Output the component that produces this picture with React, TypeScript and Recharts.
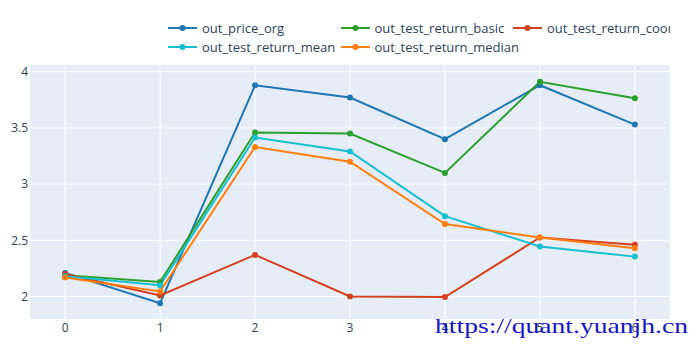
import React from 'react';
import { LineChart, Line, XAxis, YAxis, CartesianGrid, Legend } from 'recharts';

const xs = [0, 1, 2, 3, 4, 5, 6];
const outPriceOrg = [2.21, 1.94, 3.88, 3.77, 3.4, 3.88, 3.53];
const outTestReturnBasic = [2.19, 2.13, 3.46, 3.45, 3.1, 3.91, 3.765];
const outTestReturnCoor = [2.2, 2.01, 2.37, 2.0, 1.995, 2.525, 2.46];
const outTestReturnMean = [2.18, 2.1, 3.415, 3.29, 2.715, 2.445, 2.355];
const outTestReturnMedian = [2.17, 2.045, 3.33, 3.2, 2.645, 2.525, 2.43];

const xTicks = [0, 1, 2, 3, 4, 5, 6];
const yTicks = [2, 2.5, 3, 3.5, 4];

const series = [
  { key: 'out_price_org', name: 'out_price_org', color: '#1f77b4', values: outPriceOrg },
  { key: 'out_test_return_basic', name: 'out_test_return_basic', color: '#2ca02c', values: outTestReturnBasic },
  { key: 'out_test_return_coor', name: 'out_test_return_coor', color: '#d4411e', values: outTestReturnCoor },
  { key: 'out_test_return_mean', name: 'out_test_return_mean', color: '#17becf', values: outTestReturnMean },
  { key: 'out_test_return_median', name: 'out_test_return_median', color: '#ff7f0e', values: outTestReturnMedian },
];

const data = xs.map((x, i) => {
  const row: Record<string, number> = { x };
  series.forEach(s => { row[s.key] = s.values[i]; });
  return row;
});

const FONT = '"Open Sans", "Noto Sans", sans-serif';
const TEXT = '#2a3f5f';

// plotly-style horizontal legend, 3 columns, clipped at the plot's right edge
const PlotlyLegend = () => (
  <div style={{ position: 'relative', width: 670, height: 56, overflow: 'hidden', fontFamily: FONT, fontSize: 13, color: TEXT }}>
    {series.map((s, i) => {
      const col = i % 3;
      const row = Math.floor(i / 3);
      const left = 168 + col * 172.5;
      const cy = 28 + row * 18.5;
      return (
        <div key={s.key} style={{ position: 'absolute', left, top: cy - 9, height: 18, display: 'flex', alignItems: 'center', whiteSpace: 'nowrap' }}>
          <svg width={30} height={18} style={{ display: 'block' }}>
            <line x1={0} y1={9} x2={29} y2={9} stroke={s.color} strokeWidth={2} />
            <circle cx={14.5} cy={9} r={3} fill={s.color} />
          </svg>
          <span style={{ marginLeft: 4, lineHeight: '18px' }}>{s.name}</span>
        </div>
      );
    })}
  </div>
);

export default function App() {
  return (
    <div style={{ position: 'absolute', left: 0, top: 0, width: 700, height: 350, background: '#fff' }}>
      <LineChart width={700} height={350} data={data} margin={{ top: 65, right: 30, bottom: 0, left: 0 }}>
        <CartesianGrid fill="#e5ecf6" stroke="#ffffff" strokeWidth={1} horizontalValues={yTicks} verticalValues={xTicks} />
        <XAxis
          dataKey="x"
          type="number"
          domain={[-0.37, 6.37]}
          ticks={xTicks}
          axisLine={false}
          tickLine={false}
          tickSize={0}
          tickMargin={4}
          height={31}
          tick={{ fill: TEXT, fontSize: 12, fontFamily: FONT }}
        />
        <YAxis
          type="number"
          domain={[1.8, 4.06]}
          ticks={yTicks}
          axisLine={false}
          tickLine={false}
          tickSize={0}
          tickMargin={2}
          width={30}
          tick={{ fill: TEXT, fontSize: 12, fontFamily: FONT }}
        />
        <Legend layout="vertical" align="center" verticalAlign="middle" wrapperStyle={{ left: 0, top: 0, width: 670, height: 56 }} content={() => <PlotlyLegend />} />
        {series.map(s => (
          <Line
            key={s.key}
            dataKey={s.key}
            name={s.name}
            type="linear"
            stroke={s.color}
            strokeWidth={2}
            dot={{ r: 3, fill: s.color, stroke: 'none' }}
            activeDot={false}
            isAnimationActive={false}
          />
        ))}
      </LineChart>
      <svg width={700} height={350} style={{ position: 'absolute', left: 0, top: 0, pointerEvents: 'none' }}>
        <text x={435} y={333} fontFamily='"Liberation Serif", serif' fontSize={22} fill="#1515c8" textLength={253} lengthAdjust="spacingAndGlyphs">
          https://quant.yuanjh.cn
        </text>
      </svg>
    </div>
  );
}
